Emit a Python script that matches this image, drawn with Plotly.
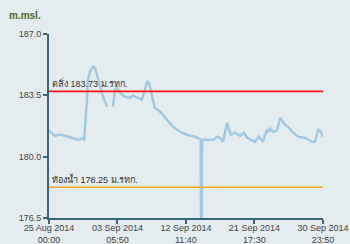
import plotly.graph_objects as go

times = [
    "2014-08-25 00:00", "2014-08-25 19:00", "2014-08-26 12:00", "2014-08-26 18:00",
    "2014-08-27 14:00", "2014-08-28 12:00", "2014-08-28 22:00", "2014-08-29 11:00",
    "2014-08-29 18:00", "2014-08-30 03:00", "2014-08-30 06:00", "2014-08-30 13:00",
    "2014-08-30 23:00", "2014-08-31 05:00", "2014-08-31 15:00", "2014-09-01 00:00",
    "2014-09-01 07:00", "2014-09-01 20:00", "2014-09-02 06:00", "2014-09-02 15:00",
    "2014-09-02 22:00", "2014-09-03 04:00", "2014-09-03 14:00", "2014-09-04 06:00",
    "2014-09-04 22:00", "2014-09-05 08:00", "2014-09-06 00:00", "2014-09-06 13:00",
    "2014-09-06 23:00", "2014-09-07 06:00", "2014-09-07 12:00", "2014-09-07 18:00",
    "2014-09-08 07:00", "2014-09-09 00:00", "2014-09-09 09:00", "2014-09-10 02:00",
    "2014-09-10 18:00", "2014-09-11 16:00", "2014-09-12 15:00", "2014-09-13 17:00",
    "2014-09-14 09:00", "2014-09-14 12:00", "2014-09-14 13:00", "2014-09-14 14:00",
    "2014-09-14 16:00", "2014-09-15 18:00", "2014-09-16 07:00", "2014-09-16 16:00",
    "2014-09-17 02:00", "2014-09-17 12:00", "2014-09-18 01:00", "2014-09-18 07:00",
    "2014-09-18 14:00", "2014-09-19 03:00", "2014-09-19 19:00", "2014-09-20 08:00",
    "2014-09-20 18:00", "2014-09-21 19:00", "2014-09-22 08:00", "2014-09-22 21:00",
    "2014-09-23 10:00", "2014-09-23 14:00", "2014-09-23 20:00", "2014-09-24 06:00",
    "2014-09-24 19:00", "2014-09-25 05:00", "2014-09-25 14:00", "2014-09-25 21:00",
    "2014-09-26 06:00", "2014-09-26 23:00", "2014-09-27 15:00", "2014-09-28 13:00",
    "2014-09-29 12:00", "2014-09-29 22:00", "2014-09-30 08:00", "2014-09-30 14:00",
    "2014-09-30 23:50",
]
levels = [
    181.48, 181.20, 181.25, 181.25,
    181.14, 181.03, 180.97, 181.03,
    180.97, 183.25, 184.39, 184.85,
    185.13, 185.07, 184.39, 183.82,
    183.42, 182.85, None, 182.85,
    183.82, 183.94, 183.65, 183.42,
    183.36, 183.48, 183.36, 183.25,
    183.82, 184.28, 184.22, 183.82,
    182.79, 182.57, 182.39, 181.99,
    181.71, 181.42, 181.25, 181.14,
    181.03, 180.97, 170.00, 180.97,
    180.97, 180.97, 180.97, 181.14,
    181.08, 180.85, 181.94, 181.54,
    181.25, 181.37, 181.20, 181.37,
    181.08, 180.85, 181.14, 180.85,
    181.54, 181.37, 181.60, 181.42,
    181.48, 182.22, 182.00, 181.82,
    181.71, 181.37, 181.14, 181.08,
    180.85, 180.85, 181.54, 181.48,
    181.14,
]

bank_level = 183.73
bed_level = 178.25
bank_label = "ตลิ่ง 183.73 ม.รทก."
bed_label = "ท้องน้ำ 178.25 ม.รทก."

x_start = "2014-08-25 00:00"
x_end = "2014-09-30 23:50"
x_range_end = "2014-09-30 23:52"
tick_vals = ["2014-08-25 00:00", "2014-09-03 05:50", "2014-09-12 11:40",
             "2014-09-21 17:30", "2014-09-30 23:50"]
tick_text = ["25 Aug 2014<br>00:00", "03 Sep 2014<br>05:50", "12 Sep 2014<br>11:40",
             "21 Sep 2014<br>17:30", "30 Sep 2014<br>23:50"]
y_ticks = [176.5, 180.0, 183.5, 187.0]

bg = "#e5ecef"
axis_col = "#3b6577"
font_family = "Liberation Sans, Arial, sans-serif"

fig = go.Figure()
fig.add_trace(go.Scatter(x=times, y=levels, mode="lines",
                         line=dict(color="#a3c9e2", width=2.5),
                         connectgaps=False, hoverinfo="skip"))
fig.add_trace(go.Scatter(x=[x_start, x_end], y=[bank_level, bank_level], mode="lines",
                         line=dict(color="#ff1010", width=1.8), hoverinfo="skip"))
fig.add_trace(go.Scatter(x=[x_start, x_end], y=[bed_level, bed_level], mode="lines",
                         line=dict(color="#f5a623", width=1.5), hoverinfo="skip"))

fig.add_annotation(x=x_start, y=bank_level, text=bank_label, showarrow=False,
                   xanchor="left", yanchor="bottom", xshift=1, yshift=0,
                   font=dict(size=9, color="#333333"))
fig.add_annotation(x=x_start, y=bed_level, text=bed_label, showarrow=False,
                   xanchor="left", yanchor="bottom", xshift=1, yshift=0,
                   font=dict(size=9, color="#333333"))
fig.add_annotation(xref="paper", yref="paper", x=-0.153, y=1.06, text="<b>m.msl.</b>",
                   showarrow=False, xanchor="left", yanchor="bottom",
                   font=dict(size=10, color="#4b6b1e"))

fig.update_layout(
    width=350, height=244,
    margin=dict(l=49, r=27, t=34, b=26, autoexpand=False),
    paper_bgcolor=bg, plot_bgcolor=bg,
    showlegend=False,
    font=dict(family=font_family, size=9, color="#444444"),
    xaxis=dict(range=[x_start, x_range_end], type="date", tickvals=tick_vals, ticktext=tick_text,
               automargin=False, ticklabeloverflow="allow", ticklabelstandoff=-4,
               showgrid=False, zeroline=False, showline=True, linecolor=axis_col, linewidth=2,
               ticks="outside", ticklen=4, tickcolor=axis_col, tickwidth=2),
    yaxis=dict(range=[176.5, 187.0], tickvals=y_ticks, ticktext=[f"{v:.1f}" for v in y_ticks],
               automargin=False,
               showgrid=False, zeroline=False, showline=True, linecolor=axis_col, linewidth=2,
               ticks="outside", ticklen=4, tickcolor=axis_col, tickwidth=2),
)

fig.write_html("out.html")
